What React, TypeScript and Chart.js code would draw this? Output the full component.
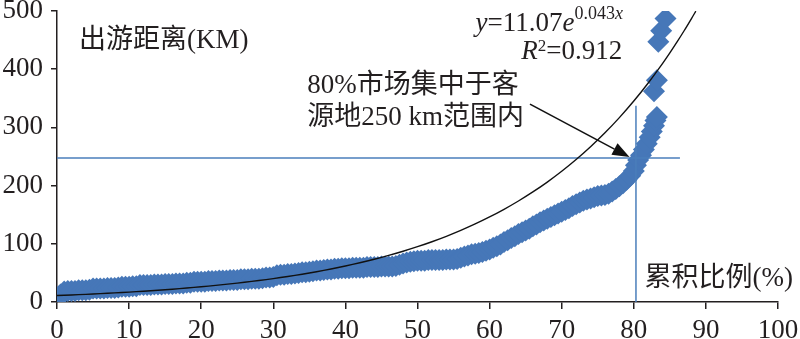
import React, { useEffect, useRef } from "react";
import { Chart, registerables } from "chart.js";

Chart.register(...registerables);

// ---- data ----
const cumulativeShare: number[] = [
  0, 0.25, 0.5, 1, 1.5, 2, 2.5, 3, 3.5, 4, 4.5, 5, 5.5, 6, 6.5, 7, 7.5, 8, 8.5, 9, 9.5,
  10, 10.5, 11, 11.5, 12, 12.5, 13, 13.5, 14, 14.5, 15, 15.5, 16, 16.5, 17, 17.5, 18, 18.5, 19, 19.5,
  20, 20.5, 21, 21.5, 22, 22.5, 23, 23.5, 24, 24.5, 25, 25.5, 26, 26.5, 27, 27.5, 28, 28.5, 29, 29.5,
  30, 30.5, 31, 31.5, 32, 32.5, 33, 33.5, 34, 34.5, 35, 35.5, 36, 36.5, 37, 37.5, 38, 38.5, 39, 39.5,
  40, 40.5, 41, 41.5, 42, 42.5, 43, 43.5, 44, 44.5, 45, 45.5, 46, 46.5, 47, 47.5, 48, 48.5, 49, 49.5,
  50, 50.5, 51, 51.5, 52, 52.5, 53, 53.5, 54, 54.5, 55, 55.5, 56, 56.5, 57, 57.5, 58, 58.5, 59, 59.5,
  60, 60.5, 61, 61.5, 62, 62.5, 63, 63.5, 64, 64.5, 65, 65.5, 66, 66.5, 67, 67.5, 68, 68.5, 69, 69.5,
  70, 70.5, 71, 71.5, 72, 72.5, 73, 73.5, 74, 74.5, 75, 75.5, 76, 76.5, 77, 77.5, 78, 78.5, 79, 79.5,
  80, 80.3, 80.6, 81, 81.4, 81.8, 82.2, 82.5, 82.8, 83, 83.2,
  82.8, 83.2, 83.4, 83.8, 84.4,
];
const travelDistanceKm: number[] = [
  4, 8, 13, 18, 19, 19, 19, 20, 20, 20, 21, 23, 23, 23, 23, 24, 24, 24, 25, 26, 26,
  26, 27, 27, 29, 29, 29, 29, 30, 30, 30, 31, 31, 31, 32, 32, 32, 33, 33, 35, 35,
  35, 35, 36, 36, 36, 37, 37, 37, 38, 38, 38, 39, 39, 39, 40, 40, 40, 41, 42, 42,
  43, 46, 47, 47, 48, 48, 49, 50, 51, 51, 52, 53, 54, 54, 55, 56, 56, 57, 57, 58,
  58, 58, 59, 59, 59, 59, 60, 60, 60, 60, 61, 61, 61, 61, 62, 64, 66, 68, 69, 70,
  71, 71, 71, 72, 72, 72, 72, 72, 73, 73, 73, 74, 76, 78, 80, 82, 83, 84, 86, 88,
  90, 93, 96, 99, 103, 106, 110, 113, 117, 120, 123, 126, 130, 133, 137, 140, 143, 146, 149, 152,
  155, 158, 161, 165, 168, 171, 174, 176, 178, 180, 182, 183, 184, 186, 190, 194, 199, 204, 210, 217,
  225, 235, 244, 252, 262, 272, 283, 293, 303, 312, 318,
  362, 381, 447, 466, 487,
];

// fitted trend shown in the chart: y = 11.07 e^(0.043x), R² = 0.912
const trendCoefA = 11.07;
const trendCoefB = 0.043;
const trendSampleX: number[] = [
  0, 2, 4, 6, 8, 10, 12, 14, 16, 18, 20, 22, 24, 26, 28, 30, 32, 34, 36, 38, 40, 42, 44, 46, 48,
  50, 52, 54, 56, 58, 60, 62, 64, 66, 68, 70, 72, 74, 76, 78, 80, 82, 84, 85, 86, 87, 88, 88.6,
];

const thresholdKm = 247.5; // horizontal reference line
const thresholdLineEndShare = 86.4;
const thresholdShare = 80.3; // vertical reference line
const thresholdLineTopKm = 337;

const xTickValues: number[] = [0, 10, 20, 30, 40, 50, 60, 70, 80, 90, 100];
const yTickValues: number[] = [0, 100, 200, 300, 400, 500];

const yAxisTitle = "出游距离(KM)";
const xAxisTitle = "累积比例(%)";
const noteLine1 = "80%市场集中于客";
const noteLine2 = "源地250 km范围内";

// ---- styles ----
const BLUE = "#4677b8";
const LINE_BLUE = "#4a7ebb";
const INK = "#231f20";
const SERIF = "'Liberation Serif', 'Noto Sans CJK SC', serif";

type Run = { text: string; font: string; dy: number };

function drawRuns(ctx: CanvasRenderingContext2D, runs: Run[], x: number, y: number, align: "left" | "right") {
  let total = 0;
  const widths = runs.map((r) => {
    ctx.font = r.font;
    const w = ctx.measureText(r.text).width;
    total += w;
    return w;
  });
  let cx = align === "right" ? x - total : x;
  runs.forEach((r, i) => {
    ctx.font = r.font;
    ctx.fillText(r.text, cx, y + r.dy);
    cx += widths[i];
  });
}

const annotationPlugin = {
  id: "annotations",
  afterDatasetsDraw(chart: any) {
    const { ctx, scales } = chart;
    const xs = scales.x;
    const ys = scales.y;
    const px = (v: number) => xs.getPixelForValue(v);
    const py = (v: number) => ys.getPixelForValue(v);
    ctx.save();
    ctx.fillStyle = INK;
    ctx.textBaseline = "alphabetic";
    ctx.textAlign = "left";

    const big = `27px ${SERIF}`;
    const bigItalic = `italic 27px ${SERIF}`;
    const small = `18px ${SERIF}`;
    const smallItalic = `italic 18px ${SERIF}`;

    ctx.font = big;
    ctx.fillText(yAxisTitle, px(3.06), py(436));
    ctx.fillText(xAxisTitle, px(81.5), py(27.5));
    ctx.fillText(noteLine1, px(34.7), py(359));
    ctx.fillText(noteLine2, px(34.7), py(304));

    drawRuns(
      ctx,
      [
        { text: "y", font: bigItalic, dy: 0 },
        { text: "=11.07", font: big, dy: 0 },
        { text: "e", font: bigItalic, dy: 0 },
        { text: "0.043", font: small, dy: -12 },
        { text: "x", font: smallItalic, dy: -12 },
      ],
      px(78.5),
      py(465.6),
      "right"
    );
    drawRuns(
      ctx,
      [
        { text: "R", font: bigItalic, dy: 0 },
        { text: "2", font: `17px ${SERIF}`, dy: -8 },
        { text: "=0.912", font: big, dy: 0 },
      ],
      px(78.4),
      py(417.5),
      "right"
    );

    // arrow
    const x0 = px(65.6), y0 = py(340);
    const x1 = px(79.4), y1 = py(249);
    const ang = Math.atan2(y1 - y0, x1 - x0);
    const headLen = 17, headHalf = 6.5;
    const bx = x1 - headLen * Math.cos(ang);
    const by = y1 - headLen * Math.sin(ang);
    ctx.strokeStyle = "#111";
    ctx.lineWidth = 1.6;
    ctx.beginPath();
    ctx.moveTo(x0, y0);
    ctx.lineTo(bx, by);
    ctx.stroke();
    ctx.fillStyle = "#111";
    ctx.beginPath();
    ctx.moveTo(x1, y1);
    ctx.lineTo(bx + headHalf * Math.sin(ang), by - headHalf * Math.cos(ang));
    ctx.lineTo(bx - headHalf * Math.sin(ang), by + headHalf * Math.cos(ang));
    ctx.closePath();
    ctx.fill();
    ctx.restore();
  },
};

export default function App() {
  const canvasRef = useRef<HTMLCanvasElement | null>(null);

  useEffect(() => {
    const canvas = canvasRef.current;
    if (!canvas) return;

    const scatterData = cumulativeShare.map((s, i) => ({ x: s, y: travelDistanceKm[i] }));
    const trendData = trendSampleX.map((s) => ({ x: s, y: trendCoefA * Math.exp(trendCoefB * s) }));

    const tickFont = { family: SERIF, size: 27 };

    const chart = new Chart(canvas, {
      type: "scatter",
      data: {
        datasets: [
          {
            type: "line",
            label: "trend",
            data: trendData,
            borderColor: "#111",
            borderWidth: 1.4,
            pointRadius: 0,
            fill: false,
            tension: 0.3,
            order: 0,
          } as any,
          {
            type: "line",
            label: "h",
            data: [
              { x: 0, y: thresholdKm },
              { x: thresholdLineEndShare, y: thresholdKm },
            ],
            borderColor: LINE_BLUE,
            borderWidth: 1.5,
            pointRadius: 0,
            order: 1,
          } as any,
          {
            type: "line",
            label: "v",
            data: [
              { x: thresholdShare, y: 0 },
              { x: thresholdShare, y: thresholdLineTopKm },
            ],
            borderColor: LINE_BLUE,
            borderWidth: 1.5,
            pointRadius: 0,
            order: 2,
          } as any,
          {
            type: "scatter",
            label: "points",
            data: scatterData,
            pointStyle: "rectRot",
            pointRadius: 11,
            pointBackgroundColor: BLUE,
            pointBorderWidth: 0,
            pointBorderColor: BLUE,
            order: 3,
          } as any,
        ],
      },
      options: {
        responsive: false,
        animation: false,
        devicePixelRatio: 1,
        layout: { padding: { top: 11, right: 22, bottom: 0, left: 0 } },
        plugins: { legend: { display: false }, tooltip: { enabled: false } },
        scales: {
          x: {
            type: "linear",
            position: "bottom",
            min: 0,
            max: 100,
            afterBuildTicks: (s: any) => {
              s.ticks = xTickValues.map((v) => ({ value: v }));
            },
            ticks: { font: tickFont, color: INK, padding: 6, maxRotation: 0, autoSkip: false },
            grid: { drawOnChartArea: false, drawTicks: true, tickLength: 7, color: INK, lineWidth: 1.5 },
            border: { display: true, color: INK, width: 1.5 },
            afterFit: (s: any) => {
              s.height = 37;
              s.paddingLeft = 0;
              s.paddingRight = 0;
            },
          },
          y: {
            type: "linear",
            min: 0,
            max: 500,
            afterBuildTicks: (s: any) => {
              s.ticks = yTickValues.map((v) => ({ value: v }));
            },
            ticks: { font: tickFont, color: INK, padding: 8 },
            grid: { drawOnChartArea: false, drawTicks: true, tickLength: 6, color: INK, lineWidth: 1.5 },
            border: { display: true, color: INK, width: 1.5 },
            afterFit: (s: any) => {
              s.width = 57;
              s.paddingTop = 0;
              s.paddingBottom = 0;
            },
          },
        },
      },
      plugins: [annotationPlugin],
    });

    return () => chart.destroy();
  }, []);

  return (
    <div style={{ position: "absolute", left: 0, top: 0, width: 800, height: 339, background: "#fff" }}>
      <canvas ref={canvasRef} width={800} height={339} style={{ width: 800, height: 339, display: "block" }} />
    </div>
  );
}
